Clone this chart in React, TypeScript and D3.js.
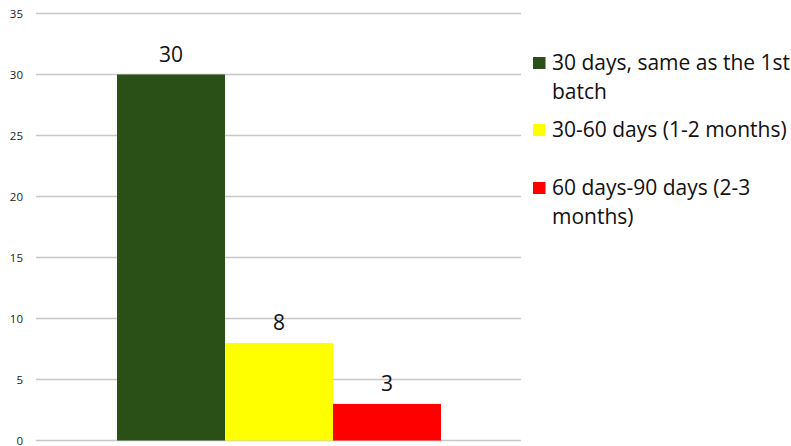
import React, { useRef, useEffect } from 'react';
import * as d3 from 'd3';

const categories = ['30 days, same as the 1st batch', '30-60 days (1-2 months)', '60 days-90 days (2-3 months)'];
const values = [30, 8, 3];
const colors = ['#2a4f17', '#ffff00', '#ff0000'];
const legendLines = [['30 days, same as the 1st', 'batch'], ['30-60 days (1-2 months)'], ['60 days-90 days (2-3', 'months)']];
const yTicks = [0, 5, 10, 15, 20, 25, 30, 35];

const App = () => {
  const svgRef = useRef<SVGSVGElement>(null);

  useEffect(() => {
    const svg = d3.select(svgRef.current);
    svg.selectAll('*').remove();
    const font = '"Open Sans", sans-serif';

    const y = d3.scaleLinear().domain([0, 35]).range([440.5, 13.5]);
    const x = d3.scaleBand().domain(categories).range([117, 441]).padding(0);

    // gridlines
    svg.append('g')
      .selectAll('line')
      .data(yTicks)
      .enter().append('line')
      .attr('x1', 36).attr('x2', 521)
      .attr('y1', d => y(d)).attr('y2', d => y(d))
      .attr('stroke', '#c8c8c8').attr('stroke-width', 1.3);

    svg.append('g')
      .selectAll('text')
      .data(yTicks)
      .enter().append('text')
      .attr('x', 23).attr('y', d => y(d) + 4)
      .attr('text-anchor', 'end')
      .attr('font-family', font).attr('font-size', 11.5).attr('fill', '#222')
      .text(d => d);

    svg.append('g')
      .selectAll('rect')
      .data(values)
      .enter().append('rect')
      .attr('x', (d, i) => x(categories[i]))
      .attr('width', x.bandwidth())
      .attr('y', d => y(d))
      .attr('height', d => y(0) - y(d))
      .attr('fill', (d, i) => colors[i]);

    svg.append('g')
      .selectAll('text')
      .data(values)
      .enter().append('text')
      .attr('x', (d, i) => x(categories[i]) + x.bandwidth() / 2)
      .attr('y', d => y(d) - 12.5)
      .attr('text-anchor', 'middle')
      .attr('font-family', font).attr('font-size', 21).attr('fill', '#111')
      .text(d => d);

    // legend
    const legendY = [57, 124, 182];
    const lg = svg.append('g');
    legendLines.forEach((lines, i) => {
      lg.append('rect')
        .attr('x', 533).attr('y', legendY[i])
        .attr('width', 12.5).attr('height', 12)
        .attr('fill', colors[i]);
      lines.forEach((l, j) => {
        lg.append('text')
          .attr('x', 552).attr('y', legendY[i] + 13 + j * 29)
          .attr('font-family', font).attr('font-size', 21).attr('fill', '#111')
          .text(l);
      });
    });
  }, []);

  return (
    <svg ref={svgRef} width={791} height={446} style={{ position: 'absolute', left: 0, top: 0, background: '#fff' }}></svg>
  );
};

export default App;
